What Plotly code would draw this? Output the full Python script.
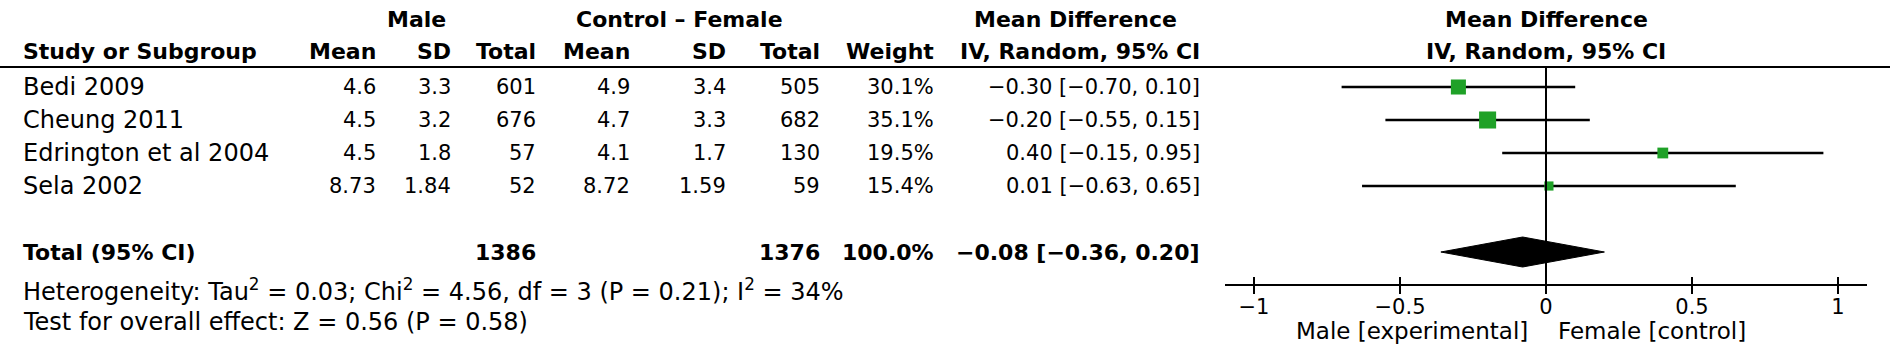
import plotly.graph_objects as go

# ---------------- data ----------------
studies = ["Bedi 2009", "Cheung 2011", "Edrington et al 2004", "Sela 2002"]
male_mean = [4.6, 4.5, 4.5, 8.73]
male_sd = [3.3, 3.2, 1.8, 1.84]
male_n = [601, 676, 57, 52]
fem_mean = [4.9, 4.7, 4.1, 8.72]
fem_sd = [3.4, 3.3, 1.7, 1.59]
fem_n = [505, 682, 130, 59]
weights = [30.1, 35.1, 19.5, 15.4]
md = [-0.30, -0.20, 0.40, 0.01]
md_lo = [-0.70, -0.55, -0.15, -0.63]
md_hi = [0.10, 0.15, 0.95, 0.65]

total_label = "Total (95% CI)"
total_male_n = 1386
total_fem_n = 1376
total_weight = 100.0
total_md = -0.08
total_lo = -0.36
total_hi = 0.20

heterogeneity = "Heterogeneity: Tau<sup>2</sup> = 0.03; Chi<sup>2</sup> = 4.56, df = 3 (P = 0.21); I<sup>2</sup> = 34%"
overall = "Test for overall effect: Z = 0.56 (P = 0.58)"
tick_vals = [-1, -0.5, 0, 0.5, 1]
left_label = "Male [experimental]"
right_label = "Female [control]"

# ---------------- layout constants ----------------
W, H = 1890, 352
FONT = "DejaVu Sans"
FS_TXT = 24     # text with letters
FS_LBL = 23     # axis side labels
FS_NUM = 21     # numeric cells
FS_BOLD = 22    # bold headers
FS_TICK = 21
ROW0_PX = 87.0
ROW_PX = 33.0
AXIS_ROW = 6
TOTAL_ROW = 5
ZERO_PX = 1546.0
UNIT_PX = 292.0
XR = 1.1
GREEN = "#1fa127"

def row_of(py):
    return (py - ROW0_PX) / ROW_PX

def px(x):
    return x / W

def fmt_num(v):
    return f"{v:g}"

def fmt_ci(m, l, h):
    return f"{m:.2f} [{l:.2f}, {h:.2f}]".replace("-", "\u2212")

rows = list(range(len(studies)))

fig = go.Figure()

sizes = [3 + 0.4 * w for w in weights]
fig.add_trace(go.Scatter(
    x=md, y=rows, mode="markers",
    marker=dict(symbol="square", size=sizes, color=GREEN, opacity=1,
                line=dict(color=GREEN, width=0)),
    error_x=dict(type="data", symmetric=False,
                 array=[h - m for m, h in zip(md, md_hi)],
                 arrayminus=[m - l for m, l in zip(md, md_lo)],
                 color="black", thickness=2.4, width=0),
    hoverinfo="skip", showlegend=False, xaxis="x", yaxis="y"))

dh = 15 / ROW_PX
fig.add_trace(go.Scatter(
    x=[total_lo, total_md, total_hi, total_md, total_lo],
    y=[TOTAL_ROW, TOTAL_ROW - dh, TOTAL_ROW, TOTAL_ROW + dh, TOTAL_ROW],
    mode="lines", fill="toself", fillcolor="black",
    line=dict(color="black", width=1),
    hoverinfo="skip", showlegend=False, xaxis="x", yaxis="y"))

for ax in ("x3", "x4"):
    fig.add_trace(go.Scatter(x=[0], y=[AXIS_ROW], mode="markers",
                             marker=dict(opacity=0), hoverinfo="skip",
                             showlegend=False, xaxis=ax, yaxis="y"))

dom = [(ZERO_PX - XR * UNIT_PX) / W, (ZERO_PX + XR * UNIT_PX) / W]
axis_pos = 1 - (ROW0_PX + AXIS_ROW * ROW_PX) / H

tick_common = dict(domain=dom, range=[-XR, XR], anchor="free", position=axis_pos,
                   tickvals=tick_vals, tickwidth=2, tickcolor="black",
                   showgrid=False, zeroline=False)
fig.update_layout(
    width=W, height=H, margin=dict(l=0, r=0, t=0, b=0),
    paper_bgcolor="white", plot_bgcolor="white",
    font=dict(family=FONT, size=FS_TXT, color="black"),
    xaxis=dict(**tick_common, ticks="outside", ticklen=3,
               showline=True, linewidth=2, linecolor="black",
               tickfont=dict(family=FONT, size=FS_TICK, color="black")),
    xaxis3=dict(**tick_common, overlaying="x", ticks="inside", ticklen=8,
                showticklabels=False, showline=False),
    xaxis4=dict(**tick_common, overlaying="x", ticks="outside", ticklen=8,
                showticklabels=False, showline=False),
    yaxis=dict(domain=[0, 1], range=[(H - ROW0_PX) / ROW_PX, -ROW0_PX / ROW_PX],
               visible=False, showgrid=False, zeroline=False),
)

hdr_row = row_of(67)
fig.add_shape(type="line", xref="paper", x0=0, x1=1, yref="y", y0=hdr_row, y1=hdr_row,
              line=dict(color="black", width=2))
fig.add_shape(type="line", xref="x", x0=0, x1=0, yref="y", y0=hdr_row, y1=AXIS_ROW,
              line=dict(color="black", width=2))

ann = []
def txt(x, y, s, anchor="right", size=FS_TXT, bold=False, xref="paper", xshift=0):
    if bold:
        s = f"<b>{s}</b>"
    ann.append(dict(x=x, y=y, xref=xref, yref="y", text=s, showarrow=False,
                    xanchor=anchor, yanchor="middle", xshift=xshift,
                    font=dict(family=FONT, size=size, color="black")))

r1 = row_of(19)
r2 = row_of(51)
txt(px(416), r1, "Male", "center", FS_BOLD, True)
txt(px(679), r1, "Control \u2013 Female", "center", FS_BOLD, True)
txt(px(1075), r1, "Mean Difference", "center", FS_BOLD, True)
txt(0, r1, "Mean Difference", "center", FS_BOLD, True, xref="x")
txt(px(21), r2, "Study or Subgroup", "left", FS_BOLD, True)
cols = [377.7, 453, 538, 632, 728, 822, 935.5, 1202]
heads = ["Mean", "SD", "Total", "Mean", "SD", "Total", "Weight", "IV, Random, 95% CI"]
for c, h in zip(cols, heads):
    txt(px(c), r2, h, "right", FS_BOLD, True)
txt(0, r2, "IV, Random, 95% CI", "center", FS_BOLD, True, xref="x")

for i, s in enumerate(studies):
    txt(px(21), i, s, "left", FS_TXT)
    vals = [fmt_num(male_mean[i]), fmt_num(male_sd[i]), str(male_n[i]),
            fmt_num(fem_mean[i]), fmt_num(fem_sd[i]), str(fem_n[i]),
            f"{weights[i]:.1f}%", fmt_ci(md[i], md_lo[i], md_hi[i])]
    for c, v in zip(cols, vals):
        txt(px(c), i, v, "right", FS_NUM)

txt(px(21), TOTAL_ROW, total_label, "left", FS_BOLD, True)
txt(px(cols[2]), TOTAL_ROW, str(total_male_n), "right", FS_BOLD, True)
txt(px(cols[5]), TOTAL_ROW, str(total_fem_n), "right", FS_BOLD, True)
txt(px(cols[6]), TOTAL_ROW, f"{total_weight:.1f}%", "right", FS_BOLD, True)
txt(px(cols[7]), TOTAL_ROW, fmt_ci(total_md, total_lo, total_hi), "right", FS_BOLD, True)

txt(px(21), row_of(290), heterogeneity, "left", FS_TXT)
txt(px(21), row_of(322), overall, "left", FS_TXT)

txt(0, row_of(331), left_label, "right", FS_LBL, xref="x", xshift=-16)
txt(0, row_of(331), right_label, "left", FS_LBL, xref="x", xshift=10)

fig.update_layout(annotations=ann)
fig.write_html("out.html")
